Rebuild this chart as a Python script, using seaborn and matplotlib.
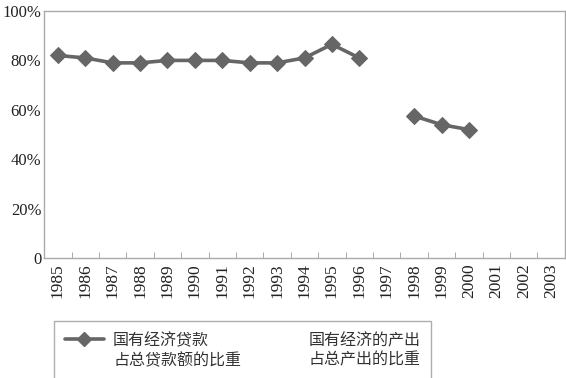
import numpy as np
import pandas as pd
import seaborn as sns
import matplotlib.pyplot as plt
from matplotlib.lines import Line2D
from matplotlib.legend_handler import HandlerLine2D
from matplotlib.ticker import FuncFormatter, FixedLocator

# Data (share in %)
years = list(range(1985, 2004))
loan_share = [82, 81, 79, 79, 80, 80, 80, 79, 79, 81, 86.5, 81,
              None, 57.5, 54, 52, None, None, None]
output_share = [None] * len(years)  # no visible points in the chart

label_loan = '国有经济贷款\n占总贷款额的比重'
label_output = '国有经济的产出\n占总产出的比重'

df = pd.DataFrame({'year': years, 'loan': loan_share}).astype(float)
# break the line at missing years
df['segment'] = df['loan'].isna().cumsum()
df = df.dropna()


class TopLineHandler(HandlerLine2D):
    # put the legend line next to the first text line
    def create_artists(self, legend, orig_handle, xdescent, ydescent,
                       width, height, fontsize, trans):
        return super().create_artists(legend, orig_handle, xdescent,
                                      ydescent - 1.5 * fontsize, width, height,
                                      fontsize, trans)


sns.set_style('white')
plt.rcParams['font.family'] = ['Liberation Serif', 'Noto Sans CJK SC', 'DejaVu Sans']

fig = plt.figure(figsize=(5.66, 3.78), dpi=100)
ax = fig.add_axes([0.078, 0.317, 0.920, 0.654])

sns.lineplot(data=df, x='year', y='loan', units='segment', estimator=None,
             color='#666666', linewidth=2.6, marker='D', markersize=8,
             markeredgecolor='#666666', ax=ax, legend=False)

ax.set_xlim(1984.5, 2003.5)
ax.set_ylim(0, 100)
ax.set_xlabel('')
ax.set_ylabel('')

ax.set_xticks(years)
ax.set_xticklabels([str(y) for y in years], rotation=90)
ax.xaxis.set_minor_locator(FixedLocator(np.arange(1985.5, 2003.5, 1)))
ax.tick_params(axis='x', which='major', length=0, pad=4, labelsize=12.5, colors='#222222')
ax.tick_params(axis='x', which='minor', direction='in', length=4, color='#999999', bottom=True)

ax.set_yticks([0, 20, 40, 60, 80, 100])
ax.yaxis.set_major_formatter(FuncFormatter(lambda v, p: '0' if v == 0 else f'{v:.0f}%'))
ax.tick_params(axis='y', length=0, pad=2, labelsize=12, colors='#222222')

for s in ax.spines.values():
    s.set_visible(True)
    s.set_color('#aaaaaa')
    s.set_linewidth(1)

handles = [Line2D([], [], color='#666666', linewidth=2.6, marker='D', markersize=7),
           Line2D([], [], color='none')]
leg = fig.legend(handles, [label_loan, label_output], ncol=2,
                 loc='upper left', bbox_to_anchor=(54 / 566, 1 - 321 / 378),
                 frameon=True, fancybox=False, edgecolor='#999999',
                 prop={'family': ['Noto Sans CJK SC'], 'size': 11.5},
                 handlelength=2.4, handletextpad=0.6, columnspacing=1.2,
                 borderpad=0.7, borderaxespad=0,
                 handler_map={Line2D: TopLineHandler()})
for t in leg.get_texts():
    t.set_color('#333333')

fig.savefig('out.png', dpi=100)
